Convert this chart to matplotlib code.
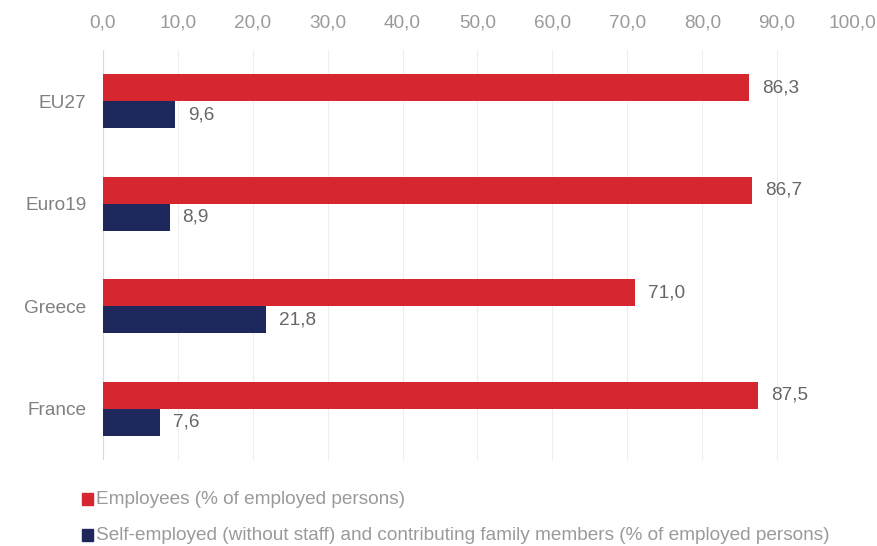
import matplotlib
matplotlib.use("Agg")
import matplotlib.pyplot as plt
from matplotlib.patches import Rectangle

categories = ["EU27", "Euro19", "Greece", "France"]
employees = [86.3, 86.7, 71.0, 87.5]
self_employed = [9.6, 8.9, 21.8, 7.6]
series_names = ["Employees (% of employed persons)",
                "Self-employed (without staff) and contributing family members (% of employed persons)"]
xticks = [0, 10, 20, 30, 40, 50, 60, 70, 80, 90, 100]

red = "#D62730"
navy = "#1F285C"
grey_tick = "#9a9a9a"
grey_cat = "#808080"
grey_text = "#666666"
fs = 13.7

plt.rcParams['font.family'] = ['Liberation Sans', 'DejaVu Sans']

fig = plt.figure(figsize=(8.78, 5.46), dpi=100)
ax = fig.add_axes([103/878, 1-460/546, 749/878, 410/546])

h = 0.265
pos = list(range(len(categories)))
ax.barh([p - h/2 for p in pos], employees, height=h, color=red, zorder=3)
ax.barh([p + h/2 for p in pos], self_employed, height=h, color=navy, zorder=3)

fmt = lambda v: f"{v:.1f}".replace(".", ",")
for p, v in zip(pos, employees):
    ax.text(v + 1.7, p - h/2, fmt(v), va="center", ha="left", fontsize=fs, color=grey_text)
for p, v in zip(pos, self_employed):
    ax.text(v + 1.7, p + h/2, fmt(v), va="center", ha="left", fontsize=fs, color=grey_text)

ax.set_xlim(0, 100)
ax.set_ylim(3.5, -0.5)
ax.set_xticks(xticks)
ax.set_xticklabels([fmt(t) for t in xticks], fontsize=fs, color=grey_tick)
ax.xaxis.tick_top()
ax.tick_params(axis="x", length=0, pad=13)
ax.set_yticks(pos)
ax.set_yticklabels(categories, fontsize=fs, color=grey_cat)
ax.tick_params(axis="y", length=0, pad=12)
ax.grid(axis="x", color="#eeeeee", linewidth=0.8, zorder=0)
ax.axvline(0, color="#d9d9d9", linewidth=0.8, zorder=2)
for s in ax.spines.values():
    s.set_visible(False)

# legend
for i, (name, col) in enumerate(zip(series_names, [red, navy])):
    y = 1 - (499 + i*36)/546
    fig.patches.append(Rectangle((82/878, y - 6/546), 11/878, 12/546,
                                 transform=fig.transFigure, color=col, figure=fig))
    fig.text(96/878, y, name, fontsize=fs, color=grey_tick, va="center", ha="left")

fig.savefig("out.png", dpi=100)
